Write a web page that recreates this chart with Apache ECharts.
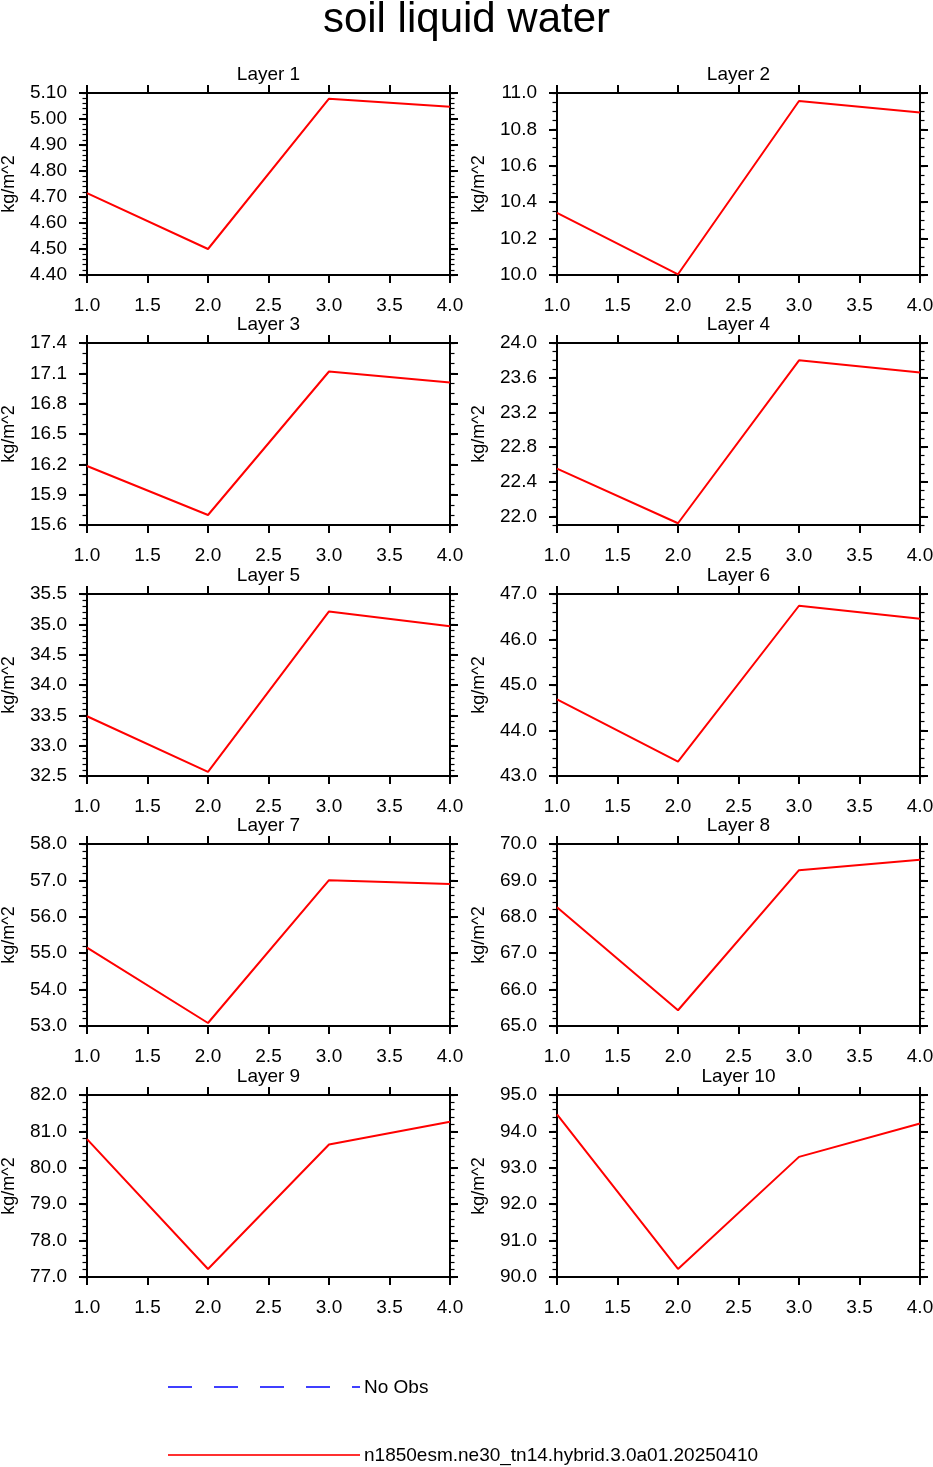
<!DOCTYPE html>
<html>
<head>
<meta charset="utf-8">
<script src="https://cdn.jsdelivr.net/npm/echarts@6/dist/echarts.min.js"></script>
<style>
  html, body { margin: 0; padding: 0; background: #fff; }
  #chart { width: 933px; height: 1467px; }
</style>
</head>
<body>
<div id="chart"></div>
<script>
// x positions shared by all panels
const xValues = [1, 2, 3, 4];
const xTicks = [1.0, 1.5, 2.0, 2.5, 3.0, 3.5, 4.0];

const layerNames = ['Layer 1', 'Layer 2', 'Layer 3', 'Layer 4', 'Layer 5',
  'Layer 6', 'Layer 7', 'Layer 8', 'Layer 9', 'Layer 10'];

// model values per layer (kg/m^2)
const layer1 = [4.715, 4.500, 5.078, 5.047];
const layer2 = [10.341, 10.004, 10.956, 10.893];
const layer3 = [16.184, 15.699, 17.118, 17.009];
const layer4 = [22.55, 21.92, 23.80, 23.66];
const layer5 = [33.485, 32.567, 35.212, 34.969];
const layer6 = [44.683, 43.317, 46.742, 46.454];
const layer7 = [55.155, 53.083, 57.006, 56.904];
const layer8 = [68.26, 65.433, 69.282, 69.567];
const layer9 = [80.787, 77.221, 80.64, 81.265];
const layer10 = [94.467, 90.221, 93.30, 94.219];
const layerValues = [layer1, layer2, layer3, layer4, layer5,
  layer6, layer7, layer8, layer9, layer10];

// y ranges and tick labels
const yMin = [4.40, 10.0, 15.6, 21.9, 32.5, 43.0, 53.0, 65.0, 77.0, 90.0];
const yMax = [5.10, 11.0, 17.4, 24.0, 35.5, 47.0, 58.0, 70.0, 82.0, 95.0];
const yTicks = [
  [4.40, 4.50, 4.60, 4.70, 4.80, 4.90, 5.00, 5.10],
  [10.0, 10.2, 10.4, 10.6, 10.8, 11.0],
  [15.6, 15.9, 16.2, 16.5, 16.8, 17.1, 17.4],
  [22.0, 22.4, 22.8, 23.2, 23.6, 24.0],
  [32.5, 33.0, 33.5, 34.0, 34.5, 35.0, 35.5],
  [43.0, 44.0, 45.0, 46.0, 47.0],
  [53.0, 54.0, 55.0, 56.0, 57.0, 58.0],
  [65.0, 66.0, 67.0, 68.0, 69.0, 70.0],
  [77.0, 78.0, 79.0, 80.0, 81.0, 82.0],
  [90.0, 91.0, 92.0, 93.0, 94.0, 95.0]
];
const yMinorStep = [0.02, 0.05, 0.1, 0.1, 0.1, 0.2, 0.2, 0.2, 0.2, 0.2];
const yDecimals = [2, 1, 1, 1, 1, 1, 1, 1, 1, 1];

const FONT = 'Liberation Sans';
const colLeft = [87, 557];
const rowTop = [93, 343, 594, 844, 1095];
const plotW = 363, plotH = 182;

function minorValues(i) {
  const out = [];
  const step = yMinorStep[i];
  const n = Math.round((yMax[i] - yMin[i]) / step);
  for (let k = 0; k <= n; k++) {
    out.push(Math.round((yMin[i] + k * step) * 1000) / 1000);
  }
  return out;
}

const grids = [], xAxes = [], yAxes = [], series = [], titles = [];

titles.push({
  text: 'soil liquid water', left: 'center', top: -1, padding: 0,
  textStyle: { fontFamily: FONT, fontSize: 42, fontWeight: 'normal', color: '#000' }
});

layerNames.forEach((name, i) => {
  const left = colLeft[i % 2];
  const top = rowTop[Math.floor(i / 2)];
  grids.push({ left: left, top: top, width: plotW, height: plotH, outerBoundsMode: 'none' });

  titles.push({
    text: name, left: left + plotW / 2, top: top - 28, padding: 0,
    textAlign: 'center',
    textStyle: { fontFamily: FONT, fontSize: 19, fontWeight: 'normal', color: '#000' }
  });

  const tickBase = { show: true, inside: false, length: 8, lineStyle: { color: '#000', width: 2 } };
  const lineBase = { show: true, onZero: false, lineStyle: { color: '#000', width: 2 } };

  xAxes.push({
    type: 'value', gridIndex: i, position: 'bottom', min: 1, max: 4,
    axisLine: lineBase,
    axisTick: Object.assign({}, tickBase, { customValues: xTicks }),
    axisLabel: {
      customValues: xTicks, margin: 21, color: '#000', fontFamily: FONT, fontSize: 19,
      formatter: v => v.toFixed(1)
    },
    splitLine: { show: false }
  });
  xAxes.push({
    type: 'value', gridIndex: i, position: 'top', min: 1, max: 4,
    axisLine: lineBase,
    axisTick: Object.assign({}, tickBase, { customValues: xTicks }),
    axisLabel: { show: false },
    splitLine: { show: false }
  });

  const minors = minorValues(i);
  const dec = yDecimals[i];
  yAxes.push({
    type: 'value', gridIndex: i, position: 'left', min: yMin[i], max: yMax[i],
    name: 'kg/m^2', nameLocation: 'middle', nameRotate: 90, nameGap: 69,
    nameTextStyle: { fontFamily: FONT, fontSize: 18, color: '#000' },
    axisLine: lineBase,
    axisTick: Object.assign({}, tickBase, { customValues: yTicks[i] }),
    axisLabel: {
      customValues: yTicks[i], margin: 20, color: '#000', fontFamily: FONT, fontSize: 19,
      formatter: v => v.toFixed(dec)
    },
    splitLine: { show: false }
  });
  yAxes.push({
    type: 'value', gridIndex: i, position: 'left', min: yMin[i], max: yMax[i],
    axisLine: { show: false },
    axisTick: { show: true, inside: false, length: 4.5, customValues: minors,
      lineStyle: { color: '#000', width: 1.2 } },
    axisLabel: { show: false },
    splitLine: { show: false }
  });
  yAxes.push({
    type: 'value', gridIndex: i, position: 'right', min: yMin[i], max: yMax[i],
    axisLine: lineBase,
    axisTick: Object.assign({}, tickBase, { customValues: yTicks[i] }),
    axisLabel: { show: false },
    splitLine: { show: false }
  });
  yAxes.push({
    type: 'value', gridIndex: i, position: 'right', min: yMin[i], max: yMax[i],
    axisLine: { show: false },
    axisTick: { show: true, inside: false, length: 4.5, customValues: minors,
      lineStyle: { color: '#000', width: 1.2 } },
    axisLabel: { show: false },
    splitLine: { show: false }
  });

  series.push({
    type: 'line', xAxisIndex: 2 * i, yAxisIndex: 4 * i,
    data: xValues.map((x, k) => [x, layerValues[i][k]]),
    symbol: 'none', clip: false,
    lineStyle: { color: '#ff0000', width: 2 }
  });
});

const chart = echarts.init(document.getElementById('chart'), null, { renderer: 'canvas' });
chart.setOption({
  backgroundColor: '#fff',
  animation: false,
  title: titles,
  grid: grids,
  xAxis: xAxes,
  yAxis: yAxes,
  series: series,
  graphic: [
    { type: 'line', shape: { x1: 168, y1: 1387, x2: 360, y2: 1387 },
      style: { stroke: '#0000ff', lineWidth: 1.5, lineDash: [24, 22] } },
    { type: 'text', x: 364, y: 1388,
      style: { text: 'No Obs', fill: '#000', font: '19px "Liberation Sans"', textVerticalAlign: 'middle' } },
    { type: 'line', shape: { x1: 168, y1: 1455, x2: 360, y2: 1455 },
      style: { stroke: '#ff3030', lineWidth: 2 } },
    { type: 'text', x: 364, y: 1456,
      style: { text: 'n1850esm.ne30_tn14.hybrid.3.0a01.20250410', fill: '#000',
        font: '19px "Liberation Sans"', textVerticalAlign: 'middle' } }
  ]
});
</script>
</body>
</html>
